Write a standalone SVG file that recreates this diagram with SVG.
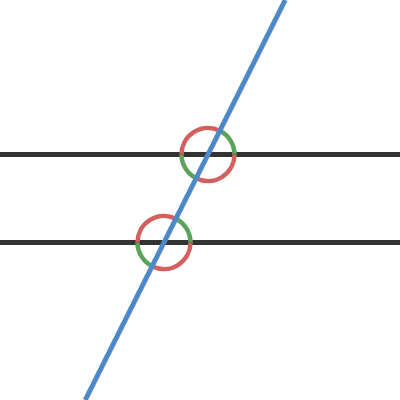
<svg xmlns="http://www.w3.org/2000/svg" width="400" height="400" viewBox="0 0 400 400">
<style>
.blk{stroke:#333333;stroke-width:5;fill:none}
.blu{stroke:#4d88c9;stroke-width:5;fill:none}
.red{stroke:#d45f5f;stroke-width:4.5;fill:none}
.grn{stroke:#5ba35b;stroke-width:4.5;fill:none}
</style>
<rect width="400" height="400" fill="#ffffff"/>
<g id="lines">
<line class="blk" x1="0" y1="154.5" x2="400" y2="154.5"/>
<line class="blk" x1="0" y1="242.5" x2="400" y2="242.5"/>
</g>
<g id="angle-top">
<path class="red" d="M234.5 154.5 A26.5 26.5 0 0 1 196.15 178.2"/>
<path class="red" d="M181.5 154.5 A26.5 26.5 0 0 1 219.85 130.8"/>
<path class="grn" d="M219.85 130.8 A26.5 26.5 0 0 1 234.5 154.5"/>
<path class="grn" d="M196.15 178.2 A26.5 26.5 0 0 1 181.5 154.5"/>
</g>
<g id="angle-bottom">
<path class="red" d="M190.5 242.5 A26.5 26.5 0 0 1 152.15 266.2"/>
<path class="red" d="M137.5 242.5 A26.5 26.5 0 0 1 175.85 218.8"/>
<path class="grn" d="M175.85 218.8 A26.5 26.5 0 0 1 190.5 242.5"/>
<path class="grn" d="M152.15 266.2 A26.5 26.5 0 0 1 137.5 242.5"/>
</g>
<g id="transversal">
<line class="blu" x1="285.25" y1="0" x2="85.25" y2="400"/>
</g>
</svg>
